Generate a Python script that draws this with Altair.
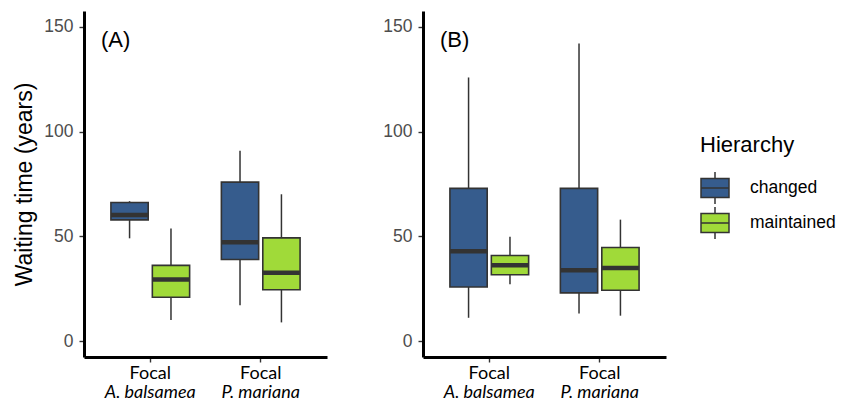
import altair as alt
import pandas as pd

# ---- data ----
panels = ["A"] * 4 + ["B"] * 4
species = ["A. balsamea", "A. balsamea", "P. mariana", "P. mariana"] * 2
hierarchy = ["changed", "maintained"] * 4
lower = [49.1, 10.1, 17.2, 9.0, 11.2, 27.2, 13.3, 12.2]
q1 = [57.9, 21.0, 39.0, 24.6, 25.9, 31.7, 23.1, 24.3]
median = [60.2, 29.4, 47.2, 32.7, 42.9, 36.3, 33.9, 34.9]
q3 = [66.2, 36.2, 75.9, 49.3, 72.9, 40.9, 72.9, 44.7]
upper = [66.8, 53.8, 90.9, 70.1, 125.8, 49.9, 142.0, 58.0]

species_order = ["A. balsamea", "P. mariana"]
hier_order = ["changed", "maintained"]
colors = ["#365C8D", "#A0DA39"]
panel_labels = {"A": "(A)", "B": "(B)"}
y_ticks = [0, 50, 100, 150]

df = pd.DataFrame(dict(panel=panels, species=species, hierarchy=hierarchy,
                       lower=lower, q1=q1, median=median, q3=q3, upper=upper))

W, H = 243, 346
DARK = "#333333"
AX = "Liberation Sans"
LAB = "Lato"

x_scale = alt.Scale(domain=species_order, paddingInner=0.25, paddingOuter=0.225)
xo_scale = alt.Scale(domain=hier_order, paddingInner=0.1, paddingOuter=0.05)
y_scale = alt.Scale(domain=[-7.5, 157.5], nice=False, zero=False)
color_scale = alt.Scale(domain=hier_order, range=colors)

legend_symbol = "M-1,-0.68H1V0.68H-1Z M0,-0.68V-1.15 M0,0.68V1.15 M-1,0H1"


def panel(p, show_title, show_legend):
    d = df[df.panel == p]
    base = alt.Chart(d)
    x_enc = alt.X("species:N", scale=x_scale, sort=species_order,
                  axis=alt.Axis(title=None, labels=False, ticks=True, tickSize=5,
                                tickColor=DARK, tickWidth=1.4, domainColor="black",
                                domainWidth=3, grid=False))
    xo = alt.XOffset("hierarchy:N", scale=xo_scale, sort=hier_order)
    y_axis = alt.Axis(values=y_ticks, grid=False, domainColor="black", domainWidth=3,
                      tickColor=DARK, tickWidth=1.4, tickSize=5, labelPadding=6,
                      labelFont=AX, labelFontSize=17.5, labelColor="#4D4D4D",
                      title="Waiting time (years)" if show_title else None,
                      titleFont=AX, titleFontSize=23, titleFontWeight="normal",
                      titleColor="black", titlePadding=7)
    whisk = base.mark_rule(color=DARK, strokeWidth=1.5).encode(
        x=x_enc, xOffset=xo,
        y=alt.Y("lower:Q", scale=y_scale, axis=y_axis), y2="upper:Q")
    legend = alt.Legend(title="Hierarchy", orient="none", legendX=616, legendY=124,
                        titleFont=AX, titleFontSize=22, titleFontWeight="normal",
                        titleColor="black", titlePadding=16,
                        labelFont=AX, labelFontSize=17.5, labelColor="black",
                        labelOffset=20, symbolType=legend_symbol, symbolSize=784,
                        symbolStrokeColor=DARK, symbolStrokeWidth=1.5,
                        symbolOpacity=1, rowPadding=-5) if show_legend else None
    box = base.mark_bar(stroke=DARK, strokeWidth=1.6, opacity=1).encode(
        x=x_enc, xOffset=xo, y=alt.Y("q1:Q", scale=y_scale), y2="q3:Q",
        fill=alt.Fill("hierarchy:N", scale=color_scale, sort=hier_order, legend=legend))
    med = base.mark_tick(color=DARK, thickness=4.5, size=37, orient="horizontal",
                         opacity=1).encode(
        x=x_enc, xOffset=xo, y=alt.Y("median:Q", scale=y_scale))
    lab_df = pd.DataFrame({"species": species_order,
                           "focal": ["Focal"] * len(species_order)})
    lab_base = alt.Chart(lab_df)
    focal = lab_base.mark_text(font=LAB, fontSize=18, color="black",
                               baseline="alphabetic").encode(
        x=alt.X("species:N", scale=x_scale, sort=species_order), text="focal:N",
        y=alt.value(H + 22))
    sp = lab_base.mark_text(font=LAB, fontSize=18, fontStyle="italic", color="black",
                            baseline="alphabetic").encode(
        x=alt.X("species:N", scale=x_scale, sort=species_order), text="species:N",
        y=alt.value(H + 40.5))
    tag_df = pd.DataFrame({"t": [panel_labels[p]], "y": [140.4]})
    tag = alt.Chart(tag_df).mark_text(font=AX, fontSize=22, color="black", align="left",
                                      baseline="alphabetic").encode(
        x=alt.value(17), y=alt.Y("y:Q", scale=y_scale), text="t:N")
    return alt.layer(whisk, box, med, focal, sp, tag).properties(width=W, height=H)


chart = alt.hconcat(panel("A", True, True), panel("B", False, False), spacing=55
                    ).properties(padding={"left": 5, "top": 3, "right": 0, "bottom": 2}
                    ).configure_view(stroke=None)

chart.save("out.html", embed_options={"renderer": "svg", "actions": False})
